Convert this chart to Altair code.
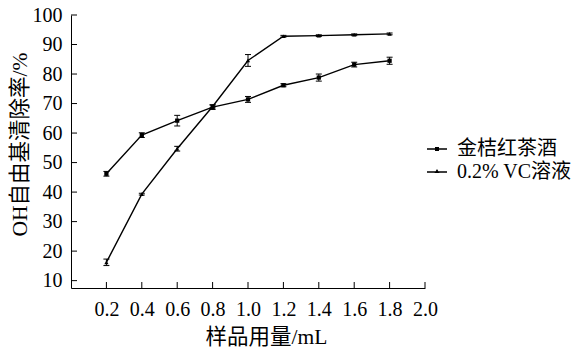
import altair as alt
import pandas as pd

# ---- data ----
x_vals = [0.2, 0.4, 0.6, 0.8, 1.0, 1.2, 1.4, 1.6, 1.8]
jinju = [46.2, 59.3, 64.2, 68.8, 71.4, 76.2, 78.8, 83.2, 84.5]
jinju_err = [0.8, 0.8, 1.8, 0.8, 1.0, 0.5, 1.2, 0.8, 1.2]
vc = [16.2, 39.3, 54.7, 69.0, 84.6, 92.8, 93.0, 93.3, 93.6]
vc_err = [1.1, 0.3, 0.8, 0.5, 2.0, 0.3, 0.3, 0.3, 0.3]
series_names = ["金桔红茶酒", "0.2% VC溶液"]
x_ticks = [0.2, 0.4, 0.6, 0.8, 1.0, 1.2, 1.4, 1.6, 1.8, 2.0]
y_ticks = [10, 20, 30, 40, 50, 60, 70, 80, 90, 100]
x_title = "样品用量/mL"
y_title = "OH自由基清除率/%"

Y_MIN, Y_MAX = 7.5, 100
X_MIN, X_MAX = 0, 2.0

rows = []
for s, ys_, es in [(series_names[0], jinju, jinju_err), (series_names[1], vc, vc_err)]:
    for xv, yv, ev in zip(x_vals, ys_, es):
        rows.append({"series": s, "x": xv, "y": yv, "lo": yv - ev, "hi": yv + ev})
df = pd.DataFrame(rows)
df_xt = pd.DataFrame({"t": x_ticks})
df_yt = pd.DataFrame({"t": y_ticks})

FONT = "Liberation Serif, Noto Sans CJK SC, serif"
xs = alt.Scale(domain=[X_MIN, X_MAX], nice=False, zero=False)
ys = alt.Scale(domain=[Y_MIN, Y_MAX], nice=False, zero=False)

x_axis = alt.Axis(
    values=x_ticks, format=".1f", ticks=False, tickSize=0, grid=False,
    labelPadding=11, labelFont=FONT, labelFontSize=20, labelColor="black",
    labelFlush=False, labelOverlap=False,
    domainColor="black", domainWidth=1,
    title=x_title, titleFont=FONT, titleFontSize=21.5, titleFontWeight="normal",
    titleColor="black", titleX=195, titleY=38, titleBaseline="top", titleAlign="center",
)
y_axis = alt.Axis(
    values=y_ticks, format="d", ticks=False, tickSize=0, grid=False,
    labelPadding=9, labelFont=FONT, labelFontSize=20, labelColor="black",
    labelFlush=False, labelOverlap=False,
    domainColor="black", domainWidth=1,
    title=y_title, titleFont=FONT, titleFontSize=21.5, titleFontWeight="normal",
    titleColor="black", titleX=-51, titleY=129, titleBaseline="middle", titleAlign="center",
    titleAngle=270,
)


def X(field):
    return alt.X(field, scale=xs, axis=x_axis, title=x_title)


def Y(field):
    return alt.Y(field, scale=ys, axis=y_axis, title=y_title)


base = alt.Chart(df)

lines = base.mark_line(color="black", strokeWidth=1.4).encode(
    x=X("x:Q"), y=Y("y:Q"), detail="series:N",
)

points = base.mark_point(filled=True, color="black", opacity=1, size=18).encode(
    x=X("x:Q"), y=Y("y:Q"),
    shape=alt.Shape("series:N", scale=alt.Scale(domain=series_names, range=["square", "triangle-up"]), legend=None),
)

err = base.mark_rule(color="black", strokeWidth=1).encode(
    x=X("x:Q"), y=Y("lo:Q"), y2="hi:Q",
)
cap_lo = base.mark_tick(orient="horizontal", size=6, thickness=1, color="black", opacity=1).encode(
    x=X("x:Q"), y=Y("lo:Q"),
)
cap_hi = base.mark_tick(orient="horizontal", size=6, thickness=1, color="black", opacity=1).encode(
    x=X("x:Q"), y=Y("hi:Q"),
)

xticks = alt.Chart(df_xt).mark_tick(orient="vertical", size=6, thickness=1, color="black", opacity=1, yOffset=-3).encode(
    x=X("t:Q"),
    y=alt.YDatum(Y_MIN, scale=ys, axis=y_axis, title=y_title),
)
yticks = alt.Chart(df_yt).mark_tick(orient="horizontal", size=6, thickness=1, color="black", opacity=1, xOffset=3).encode(
    y=Y("t:Q"),
    x=alt.XDatum(X_MIN, scale=xs, axis=x_axis, title=x_title),
)

# legend symbols: a short line with the series marker in its middle (filled shapes)
sym1 = "M-1,-0.07H1V0.07H-1Z M-0.2,-0.2H0.2V0.2H-0.2Z"
sym2 = "M-1,-0.07H1V0.07H-1Z M0,-0.3L0.24,0.1H-0.24Z"
legend_layer = base.mark_point(filled=True, color="black", opacity=1).encode(
    shape=alt.Shape(
        "series:N",
        scale=alt.Scale(domain=series_names, range=[sym1, sym2]),
        legend=alt.Legend(
            title=None, orient="none", legendX=356, legendY=124, padding=0,
            labelFont=FONT, labelFontSize=20, labelColor="black", labelOffset=10,
            symbolSize=400, symbolFillColor="black", symbolStrokeColor="black",
            symbolStrokeWidth=0, symbolOpacity=1, rowPadding=3, labelLimit=300,
        ),
    ),
).transform_filter("false")

chart = (
    alt.layer(lines, err, cap_lo, cap_hi, points, xticks, yticks, legend_layer)
    .resolve_scale(shape="independent")
    .properties(
        width=354, height=273,
        autosize=alt.AutoSizeParams(type="none"),
        padding={"left": 63, "top": 7, "right": 153, "bottom": 61},
        background="white",
    )
    .configure_view(stroke=None)
)

chart.save("out.html", embed_options={"renderer": "svg", "actions": False})
